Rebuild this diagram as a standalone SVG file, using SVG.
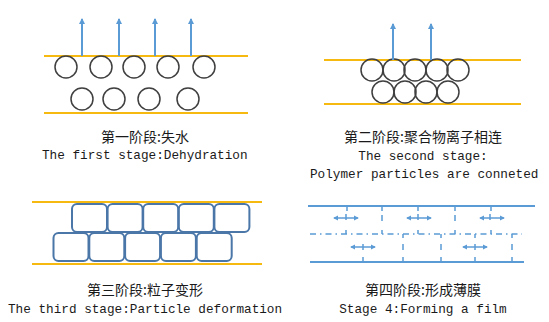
<svg xmlns="http://www.w3.org/2000/svg" width="549" height="322" viewBox="0 0 549 322">
<style>
.y{stroke:#f5b90f;stroke-width:2;fill:none}
.c{stroke:#3f3f3f;stroke-width:1.5;fill:none}
.r{stroke:#4a76a8;stroke-width:2;fill:none}
.a{stroke:#5b9bd5;stroke-width:2;fill:none}
.b{stroke:#5b9bd5;stroke-width:2;fill:none}
.t{stroke:#5b9bd5;stroke-width:1.5;fill:none}
.zh{font-family:"Noto Sans CJK SC","Liberation Serif",serif;font-size:14px;fill:#1a1a1a;text-anchor:middle}
.en{font-family:"Liberation Mono",monospace;font-size:12.7px;fill:#1a1a1a}
</style>
<defs>
<marker id="ah" viewBox="0 0 6 6" refX="5" refY="3" markerWidth="3" markerHeight="3" orient="auto">
<path d="M0,0 L6,3 L0,6 z" fill="#5b9bd5"/>
</marker>
<marker id="sh" viewBox="0 0 6 6" refX="5" refY="3" markerWidth="3.5" markerHeight="3.5" orient="auto-start-reverse">
<path d="M0,0 L6,3 L0,6 z" fill="#5b9bd5"/>
</marker>
</defs>
<rect width="549" height="322" fill="#ffffff"/>

<g id="stage1">
<line class="y" x1="44" y1="56" x2="248" y2="56"/>
<line class="y" x1="44" y1="113" x2="248" y2="113"/>
<circle class="c" cx="66" cy="67" r="11"/>
<circle class="c" cx="101" cy="67" r="11"/>
<circle class="c" cx="134" cy="67" r="11"/>
<circle class="c" cx="168" cy="67" r="11"/>
<circle class="c" cx="204" cy="67" r="11"/>
<circle class="c" cx="82" cy="99" r="11"/>
<circle class="c" cx="114" cy="99" r="11"/>
<circle class="c" cx="149" cy="99" r="11"/>
<circle class="c" cx="188" cy="99" r="11"/>
<text class="zh" x="145" y="142">第一阶段:失水</text>
<text class="en" x="42" y="159">The first stage:Dehydration</text>
</g>

<g id="stage2">
<line class="y" x1="324" y1="60" x2="521" y2="60"/>
<line class="y" x1="324" y1="104" x2="521" y2="104"/>
<circle class="c" cx="372" cy="70" r="11"/>
<circle class="c" cx="394" cy="70" r="11"/>
<circle class="c" cx="415" cy="70" r="11"/>
<circle class="c" cx="437" cy="70" r="11"/>
<circle class="c" cx="458" cy="70" r="11"/>
<circle class="c" cx="383" cy="92" r="11"/>
<circle class="c" cx="405" cy="92" r="11"/>
<circle class="c" cx="426" cy="92" r="11"/>
<circle class="c" cx="448" cy="92" r="11"/>
<text class="zh" x="423" y="142">第二阶段:聚合物离子相连</text>
<text class="en" x="423" y="160" text-anchor="middle">The second stage:</text>
<text class="en" x="310" y="178">Polymer particles are conneted</text>
</g>

<g id="stage3">
<line class="y" x1="32" y1="202" x2="262" y2="202"/>
<line class="y" x1="32" y1="264" x2="262" y2="264"/>
<rect class="r" x="72" y="204" width="35" height="28" rx="5"/>
<rect class="r" x="107.6" y="204" width="35" height="28" rx="5"/>
<rect class="r" x="143.2" y="204" width="35" height="28" rx="5"/>
<rect class="r" x="178.8" y="204" width="35" height="28" rx="5"/>
<rect class="r" x="214.4" y="204" width="35" height="28" rx="5"/>
<rect class="r" x="53.5" y="233" width="35" height="28" rx="5"/>
<rect class="r" x="89.3" y="233" width="35" height="28" rx="5"/>
<rect class="r" x="125.1" y="233" width="35" height="28" rx="5"/>
<rect class="r" x="160.9" y="233" width="35" height="28" rx="5"/>
<rect class="r" x="196.7" y="233" width="35" height="28" rx="5"/>
<text class="zh" x="145" y="295">第三阶段:粒子变形</text>
<text class="en" x="8" y="313">The third stage:Particle deformation</text>
</g>

<g id="stage4">
<line class="b" x1="308" y1="206" x2="535" y2="206"/>
<line class="b" x1="310" y1="262" x2="524" y2="262"/>
<line class="t" x1="310" y1="234" x2="522" y2="234" stroke-dasharray="6 4 1.5 4"/>
<path class="t" d="M347,206 v5 M382,206 v5 M418,206 v5 M455,206 v5 M491,206 v5
M382,215 v6 M455,215 v6
M346,214 v6 M418,214 v6 M490,214 v6
M346,230 v4 M382,230 v4 M418,230 v4 M455,230 v4 M491,230 v4
M403,234 v4 M441,234 v4 M475,234 v4 M512,234 v4
M403,244 v6 M441,244 v6 M512,244 v6
M363,244 v6 M475,244 v6
M363,262 v-5 M403,262 v-5 M441,262 v-5 M475,262 v-5 M512,262 v-5"/>
<line class="t" x1="334" y1="218" x2="358" y2="218" marker-start="url(#sh)" marker-end="url(#sh)"/>
<line class="t" x1="407" y1="218" x2="431" y2="218" marker-start="url(#sh)" marker-end="url(#sh)"/>
<line class="t" x1="480" y1="218" x2="504" y2="218" marker-start="url(#sh)" marker-end="url(#sh)"/>
<line class="t" x1="351" y1="247" x2="375" y2="247" marker-start="url(#sh)" marker-end="url(#sh)"/>
<line class="t" x1="463" y1="247" x2="487" y2="247" marker-start="url(#sh)" marker-end="url(#sh)"/>
<text class="zh" x="423" y="295">第四阶段:形成薄膜</text>
<text class="en" x="423" y="313" text-anchor="middle" font-size="12.1">Stage 4:Forming a film</text>
</g>

<g id="connectors">
<line class="a" x1="82" y1="56" x2="82" y2="19" marker-end="url(#ah)"/>
<line class="a" x1="119" y1="56" x2="119" y2="19" marker-end="url(#ah)"/>
<line class="a" x1="155" y1="56" x2="155" y2="19" marker-end="url(#ah)"/>
<line class="a" x1="191" y1="56" x2="191" y2="19" marker-end="url(#ah)"/>
<line class="a" x1="393" y1="60" x2="393" y2="24" marker-end="url(#ah)"/>
<line class="a" x1="431" y1="60" x2="431" y2="24" marker-end="url(#ah)"/>
</g>
</svg>
